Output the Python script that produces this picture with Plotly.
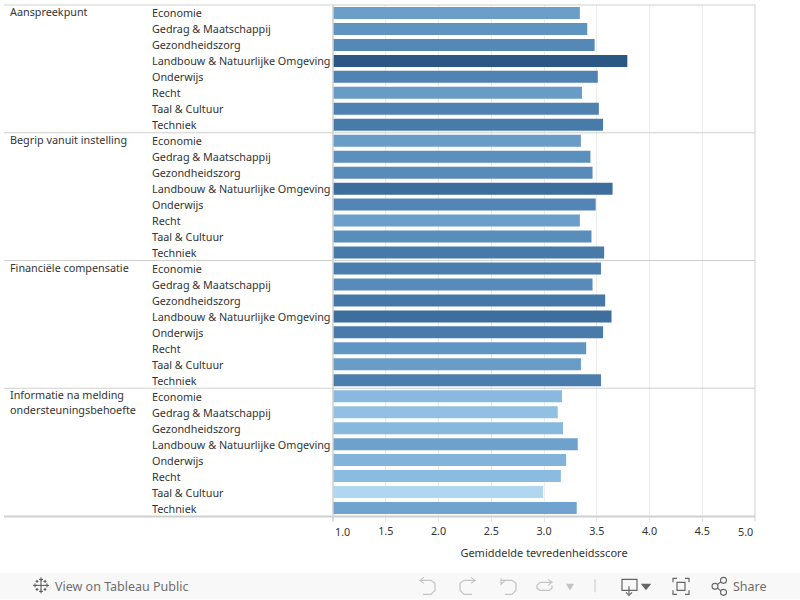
import plotly.graph_objects as go

W, H = 800, 600
L, R, T, B = 333, 45, 4.5, 83.5

groups = ["Aanspreekpunt", "Begrip vanuit instelling", "Financiële compensatie",
          "Informatie na melding<br>ondersteuningsbehoefte"]
fields = ["Economie", "Gedrag & Maatschappij", "Gezondheidszorg",
          "Landbouw & Natuurlijke Omgeving", "Onderwijs", "Recht",
          "Taal & Cultuur", "Techniek"]
aanspreekpunt = [3.34, 3.41, 3.48, 3.79, 3.51, 3.36, 3.52, 3.56]
begrip = [3.35, 3.44, 3.46, 3.65, 3.49, 3.34, 3.45, 3.57]
financieel = [3.54, 3.46, 3.58, 3.64, 3.56, 3.40, 3.35, 3.54]
informatie = [3.17, 3.13, 3.18, 3.32, 3.21, 3.16, 2.99, 3.31]
series = [aanspreekpunt, begrip, financieel, informatie]
x_ticks = [1.5, 2.0, 2.5, 3.0, 3.5, 4.0, 4.5]
x_end_ticks = [1.0, 5.0]
axis_title = "Gemiddelde tevredenheidsscore"
colorscale = [[0, "#b0d7ef"], [0.25, "#85b6dc"], [0.5, "#6297c3"], [0.75, "#4476a6"], [1, "#2a5783"]]

FONT = "Noto Sans"
TXT = "#333333"
LINE = "#cfcfcf"
FS = 10.8

keys, vals = [], []
for g, s in zip(groups, series):
    for f, v in zip(fields, s):
        keys.append(g + "|" + f)
        vals.append(v)

fig = go.Figure(go.Bar(
    x=vals, y=keys, orientation="h", base=0,
    marker=dict(color=vals, colorscale=colorscale, cmin=min(vals), cmax=max(vals), line_width=0),
    hoverinfo="x+y", showlegend=False,
))

# "paper" coordinates are relative to the plot area, so convert from page pixels
def px(x): return (x - L) / (W - L - R)
def py(y): return 1 - (y - T) / (H - T - B)

ann = []
for i, k in enumerate(keys):
    ann.append(dict(x=px(152), xref="paper", y=k, yref="y", text=fields[i % len(fields)],
                    showarrow=False, xanchor="left", yanchor="middle", xshift=-2,
                    font=dict(family=FONT, size=FS, color=TXT)))
for gi, g in enumerate(groups):
    for li, part in enumerate(g.split("<br>")):
        ann.append(dict(x=px(10), xref="paper", y=py(1.5 + gi * 128 + li * 15), yref="paper", text=part,
                        showarrow=False, xanchor="left", yanchor="top", align="left", xshift=-2,
                        font=dict(family=FONT, size=FS, color=TXT)))
for v, shift in zip(x_end_ticks, [9, -10]):
    ann.append(dict(x=v, xref="x", xshift=shift, y=py(532), yref="paper", text=f"{v:.1f}",
                    showarrow=False, xanchor="center", yanchor="middle",
                    font=dict(family=FONT, size=FS, color=TXT)))
ann.append(dict(x=px(53), xref="paper", y=py(587), yref="paper", text="View on Tableau Public",
                showarrow=False, xanchor="left", yanchor="middle",
                font=dict(family=FONT, size=12.5, color="#6e6e6e")))
ann.append(dict(x=px(731), xref="paper", y=py(587), yref="paper", text="Share",
                showarrow=False, xanchor="left", yanchor="middle",
                font=dict(family=FONT, size=12.5, color="#6e6e6e")))

shapes = []
def line(x0, y0, x1, y1, color=LINE, width=1):
    shapes.append(dict(type="line", xref="paper", yref="paper", x0=px(x0), y0=py(y0), x1=px(x1), y1=py(y1),
                       line=dict(color=color, width=width), layer="above"))
def path(points, color="#aaaaaa", width=1.2, closed=False, fill=None):
    d = "M " + " L ".join(f"{px(a):.5f},{py(b):.5f}" for a, b in points) + (" Z" if closed else "")
    shapes.append(dict(type="path", xref="paper", yref="paper", path=d,
                       line=dict(color=color, width=width), fillcolor=fill, layer="above"))

# footer band
shapes.append(dict(type="rect", xref="paper", yref="paper", x0=px(0), x1=px(W), y0=py(H), y1=py(573.5),
                   fillcolor="#f8f8f8", line_width=0, layer="below"))
# separators and frame
line(4, 4.5, 755, 4.5)
for gi in (1, 2, 3):
    line(4, 4.5 + gi * 128, 755, 4.5 + gi * 128)
line(4, 517, 755, 517, width=2)
line(333, 4, 333, 522, width=1.5)
line(755, 4, 755, 522, width=1)

# toolbar icons
for cx, cy, r in [(41, 586, 5), (35, 586, 2), (47, 586, 2), (41, 580, 2), (41, 592, 2), (37, 582, 1.5), (45, 582, 1.5), (37, 590, 1.5), (45, 590, 1.5)]:
    line(cx - r, cy, cx + r, cy, color="#555555", width=1)
    line(cx, cy - r, cx, cy + r, color="#555555", width=1)
grey = "#c4c4c4"
path([(420, 581), (431, 581), (435, 584), (435, 591), (431, 595), (423, 595)], grey)
path([(424, 578), (420, 581), (424, 584)], grey)
path([(475, 581), (464, 581), (460, 584), (460, 591), (464, 595), (472, 595)], grey)
path([(471, 578), (475, 581), (471, 584)], grey)
path([(501, 581), (512, 581), (516, 584), (516, 591), (512, 595), (505, 595)], grey)
path([(501, 579), (501, 585), (505, 581)], grey)
path([(551, 583), (540, 583), (537, 586), (537, 589), (540, 591), (549, 591), (552, 589), (552, 586)], grey)
path([(548, 580), (552, 583), (548, 586)], grey)
path([(567, 585), (573, 585), (570, 590)], grey, closed=True, fill=grey)
line(595, 580, 595, 593, color="#c8c8c8")
dk = "#666666"
path([(622, 580), (637, 580), (637, 591), (622, 591)], dk, closed=True)
path([(629, 587), (629, 595)], dk)
path([(626, 593), (629, 596), (632, 593)], dk)
path([(642, 585), (650, 585), (646, 590)], dk, closed=True, fill=dk)
for a, b, sx, sy in [(673, 579, 1, 1), (689, 579, -1, 1), (673, 595, 1, -1), (689, 595, -1, -1)]:
    path([(a, b + sy * 4), (a, b), (a + sx * 4, b)], dk)
path([(677, 583), (685, 583), (685, 591), (677, 591)], dk, closed=True)
path([(723, 581), (715, 587), (723, 593)], dk)
for cx, cy in [(723.5, 581), (715, 587), (723.5, 593)]:
    shapes.append(dict(type="circle", xref="paper", yref="paper", x0=px(cx - 3), x1=px(cx + 3),
                       y0=py(cy + 3), y1=py(cy - 3), line=dict(color=dk, width=1.1),
                       fillcolor="#f8f8f8", layer="above"))

fig.update_layout(
    width=W, height=H, autosize=False,
    margin=dict(l=L, r=R, t=T, b=B, pad=0),
    paper_bgcolor="white", plot_bgcolor="white",
    font=dict(family=FONT, size=FS, color=TXT),
    bargap=0.25,
    annotations=ann, shapes=shapes,
    xaxis=dict(range=[1, 5], tickmode="array", tickvals=x_ticks, ticktext=[f"{v:.1f}" for v in x_ticks],
               showgrid=True, gridcolor="#ececec", gridwidth=1, zeroline=False, showline=False,
               ticks="outside", ticklen=5, tickcolor="#e6e6e6", tickfont=dict(family=FONT, size=FS, color=TXT),
               title=dict(text=axis_title, standoff=12, font=dict(family=FONT, size=11, color=TXT))),
    yaxis=dict(type="category", categoryorder="array", categoryarray=keys, range=[len(keys) - 0.5, -0.5],
               showticklabels=False, showgrid=False, zeroline=False, showline=False, ticks=""),
)

fig.write_html("out.html", config=dict(displayModeBar=False),
               post_script="document.body.style.margin='0';document.body.style.overflow='hidden';")
